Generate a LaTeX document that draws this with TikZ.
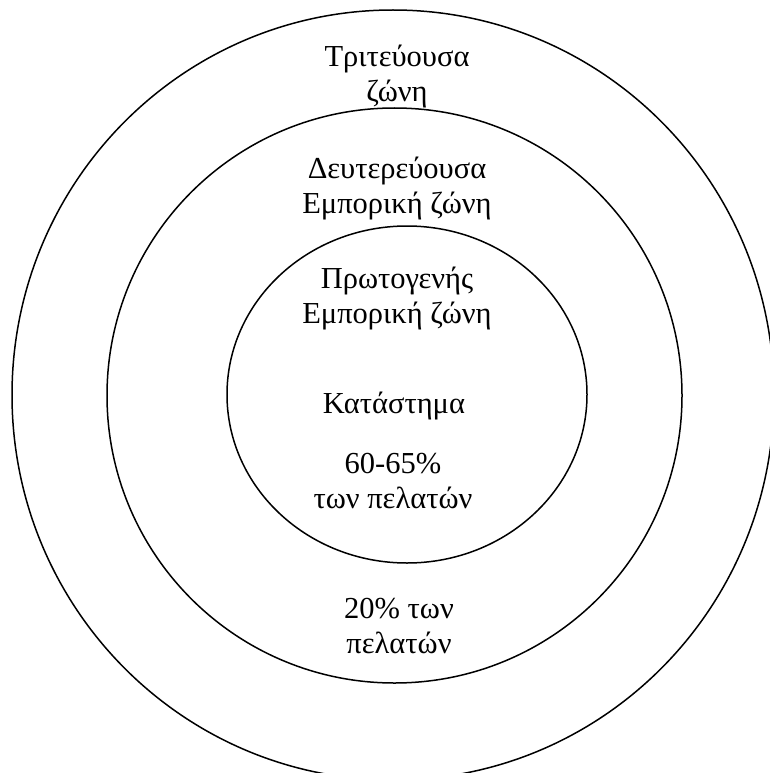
\documentclass[tikz,border=0pt]{standalone}
\usepackage{fontspec}
\setmainfont{Liberation Serif}
\tikzset{
  zone/.style={line width=1.5pt},
  zone label/.style={font=\fontsize{30.5}{35}\selectfont, align=center, inner sep=0pt, anchor=base}
}
\begin{document}
\begin{tikzpicture}[x=1pt,y=-1pt]
    \useasboundingbox (0,0) rectangle (769,773);
    \coordinate (C1) at (407,394.5);
    \coordinate (C2) at (394.5,395.5);
    \coordinate (C3) at (393,395);

    %zones
    \draw[zone] (C3) ellipse [x radius=381, y radius=385];
    \draw[zone] (C2) circle [radius=287.5];
    \draw[zone] (C1) ellipse [x radius=180, y radius=168.5];

    %labels (base = last line)
    \node[zone label] (tertiary) at (397,102) {Τριτεύουσα\\ζώνη};
    \node[zone label] (secondary) at (397,213) {Δευτερεύουσα\\Εμπορική ζώνη};
    \node[zone label] (primary) at (397,323) {Πρωτογενής\\Εμπορική ζώνη};
    \node[zone label] (store) at (394,413) {Κατάστημα};
    \node[zone label] (share1) at (393,508) {60-65\%\\των πελατών};
    \node[zone label] (share2) at (399,653) {20\% των\\πελατών};
\end{tikzpicture}
\end{document}
